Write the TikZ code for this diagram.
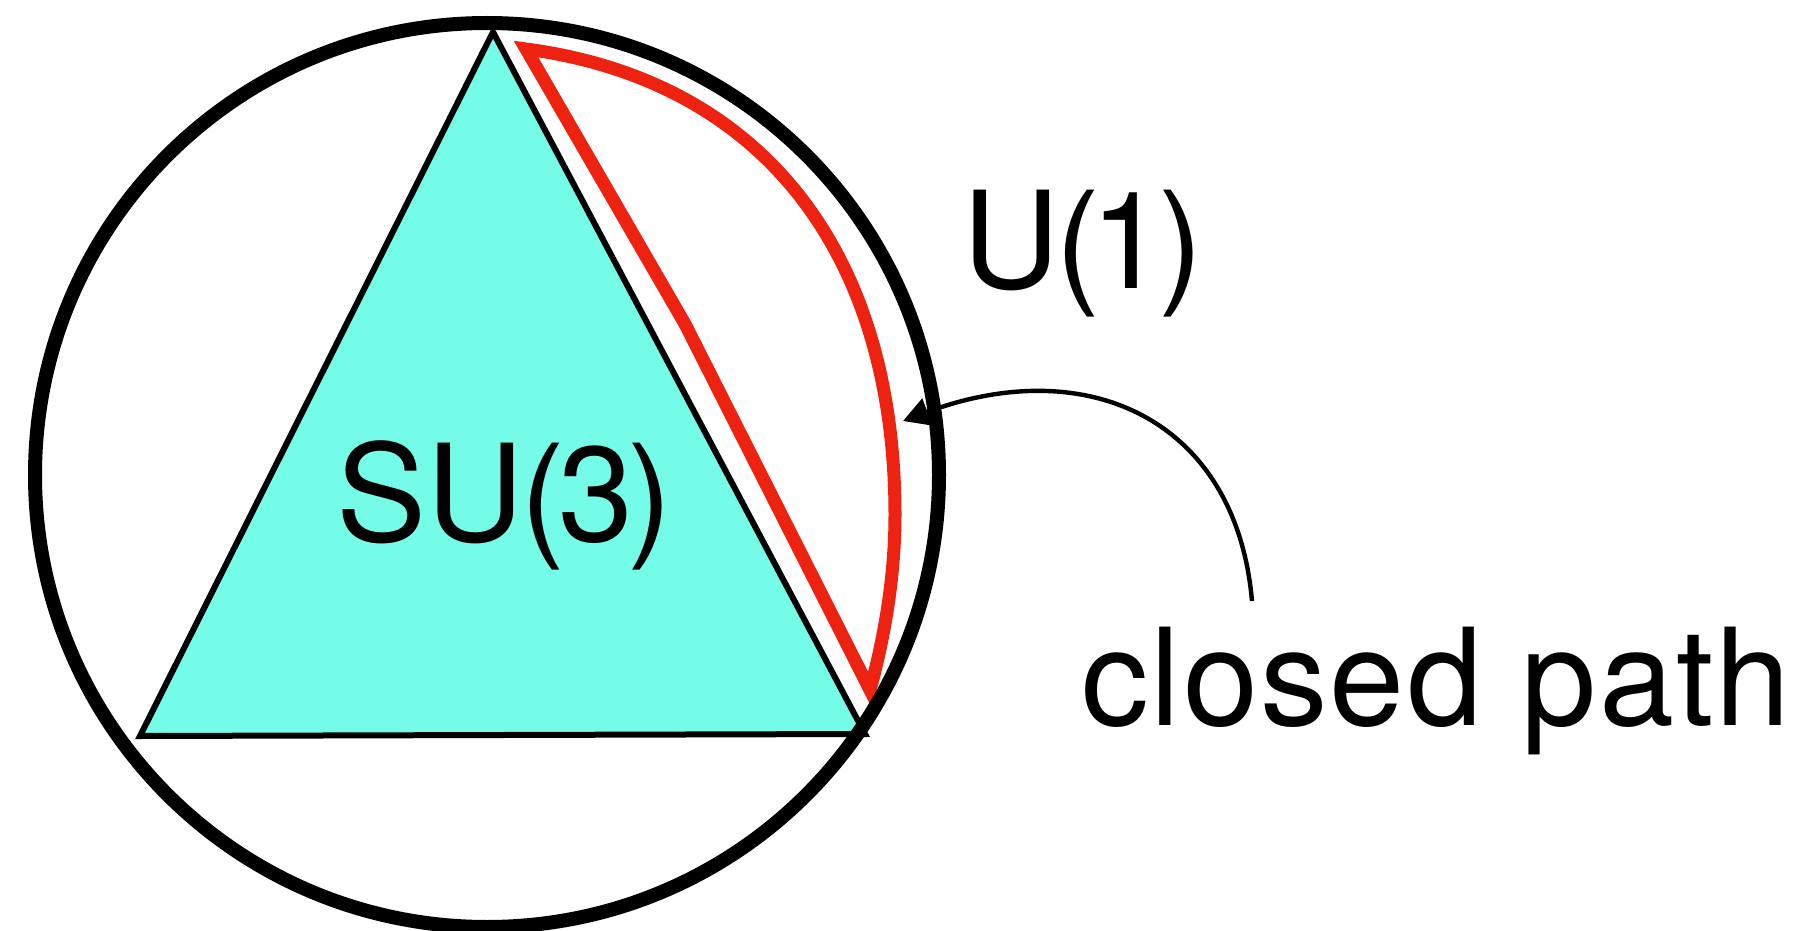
\documentclass[tikz,border=0pt]{standalone}
\usepackage{fontspec}
\setmainfont{TeX Gyre Heros}
\newfontfamily\widehelv[LetterSpace=1.6]{TeX Gyre Heros}
\usetikzlibrary{arrows.meta}
\definecolor{aqua}{RGB}{117,252,232}
\definecolor{pathred}{RGB}{238,34,17}
\tikzset{
  lbl/.style={inner sep=0pt, anchor=base west, font=\fontsize{67.5pt}{70pt}\selectfont},
  bigcircle/.style={line width=7pt},
  trianglefill/.style={draw=black, fill=aqua, line width=3pt, line join=miter},
  redloop/.style={draw=pathred, line width=6.5pt, line join=miter},
  connector/.style={line width=2.2pt, -{Triangle[length=13pt,width=14pt]}}
}
\begin{document}
\begin{tikzpicture}[x=0.5pt,y=-0.5pt]
\useasboundingbox (0,0) rectangle (1795,931);
% triangle SU(3)
\draw[trianglefill] (493,32) -- (140,736) -- (865,734) -- cycle;
% red closed path
\draw[redloop] (526,49) -- (685,324) -- (870,690)
  .. controls (885,635) and (895,575) .. (895,515)
  .. controls (895,250) and (760,80) .. cycle;
% connector
\coordinate (cstart) at (1252,601);
\coordinate (ctip) at (903,421);
\draw[connector] (cstart) .. controls (1236,420) and (1088,352) .. (ctip);
% circle U(1)
\draw[bigcircle] (487,475) circle[radius=452];
% labels
\node[lbl] (su3) at (336,541) {SU\kern-1.7pt(\kern-3.5pt3\kern-3pt)};
\node[lbl] (u1) at (962,288) {U\kern-2.3pt(\kern-5pt1\kern-3.5pt)};
\node[lbl, font=\widehelv\fontsize{67.5pt}{70pt}\selectfont] (closed) at (1081,725) {closed path};
\end{tikzpicture}
\end{document}
